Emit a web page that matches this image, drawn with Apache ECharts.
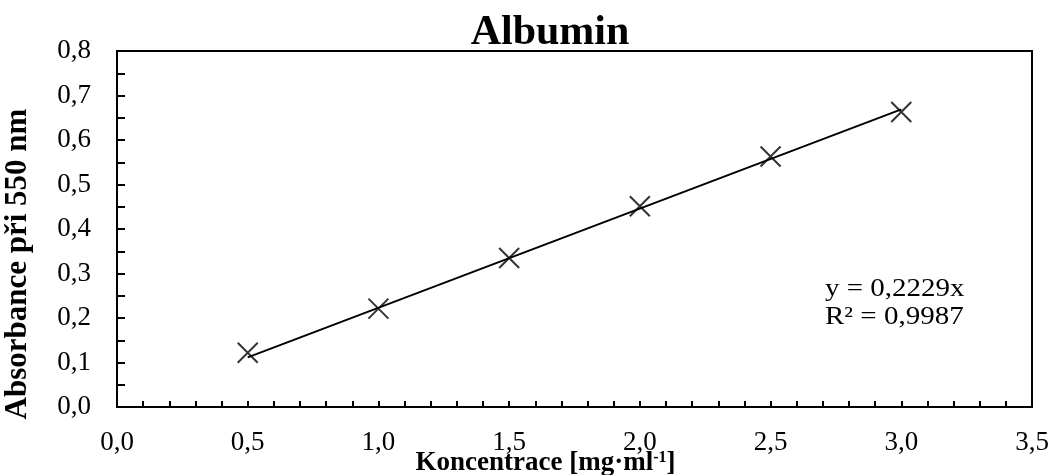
<!DOCTYPE html>
<html>
<head>
<meta charset="utf-8">
<title>Albumin</title>
<script src="https://cdn.jsdelivr.net/npm/echarts@6/dist/echarts.min.js"></script>
<style>
    html, body { margin: 0; padding: 0; background: #fff; }
    #albumin { width: 1053px; height: 475px; }
</style>
</head>
<body>
<div id="albumin"></div>
<script>
// koncentrace [mg/ml] a absorbance pri 550 nm
var koncentrace = [0.5, 1.0, 1.5, 2.0, 2.5, 3.0];
var absorbance = [0.122, 0.221, 0.335, 0.451, 0.563, 0.663];
// linearni trend y = k*x (z Excelu)
var smernice = 0.2229;
var r2 = 0.9987;
var trendRozsah = [0.5, 3.0];
var xTicks = [0, 3.5, 0.5];   // min, max, interval
var yTicks = [0, 0.8, 0.1];

var font = "'Liberation Serif', 'Times New Roman', serif";

function carka(v) {
    return v.toFixed(1).replace('.', ',');
}

var body = [];
for (var i = 0; i < koncentrace.length; i++) {
    body.push([koncentrace[i], absorbance[i]]);
}
var trend = trendRozsah.map(function (x) { return [x, smernice * x]; });

var chart = echarts.init(document.getElementById('albumin'));
var option = {
    backgroundColor: '#ffffff',
    animation: false,
    title: {
        text: 'Albumin',
        left: 545,
        top: 7,
        textAlign: 'center',
        textStyle: {
            fontFamily: font,
            fontSize: 42,
            fontWeight: 'bold',
            color: '#000'
        }
    },
    grid: {
        left: 117,
        right: 21,
        top: 51,
        bottom: 68,
        containLabel: false,
        outerBoundsMode: 'none',
        show: true,
        borderColor: '#000',
        borderWidth: 2
    },
    xAxis: {
        type: 'value',
        min: xTicks[0],
        max: xTicks[1],
        interval: xTicks[2],
        name: 'Koncentrace [mg·ml{sup|-1}]',
        nameLocation: 'middle',
        nameGap: 43,
        nameMoveOverlap: false,
        nameTextStyle: {
            fontFamily: font,
            fontSize: 27,
            fontWeight: 'bold',
            color: '#000',
            padding: [0, 58, 0, 0],
            rich: {
                sup: {
                    fontFamily: font,
                    fontSize: 16,
                    fontWeight: 'bold',
                    color: '#000',
                    verticalAlign: 'top',
                    padding: [0, 0, 10, 0]
                }
            }
        },
        axisLine: { lineStyle: { color: '#000', width: 2 } },
        axisTick: { inside: true, length: 6, lineStyle: { color: '#000', width: 2 } },
        minorTick: { show: true, splitNumber: 5, length: 6, lineStyle: { color: '#000', width: 2 } },
        splitLine: { show: false },
        axisLabel: {
            margin: 22,
            fontFamily: font,
            fontSize: 27,
            color: '#000',
            formatter: carka
        }
    },
    yAxis: {
        type: 'value',
        min: yTicks[0],
        max: yTicks[1],
        interval: yTicks[2],
        name: 'Absorbance při 550 nm',
        nameLocation: 'middle',
        nameGap: 84,
        nameMoveOverlap: false,
        nameTextStyle: {
            fontFamily: font,
            fontSize: 31,
            fontWeight: 'bold',
            color: '#000',
            padding: [0, 70, 0, 0]
        },
        axisLine: { show: true, lineStyle: { color: '#000', width: 2 } },
        axisTick: { show: true, inside: true, length: 8, lineStyle: { color: '#000', width: 2 } },
        minorTick: { show: true, splitNumber: 2, length: 8, lineStyle: { color: '#000', width: 2 } },
        splitLine: { show: false },
        axisLabel: {
            margin: 26,
            fontFamily: font,
            fontSize: 27,
            color: '#000',
            formatter: carka
        }
    },
    graphic: [{
        type: 'text',
        x: 825,
        y: 275,
        scaleX: 1.16,
        style: {
            text: 'y = ' + String(smernice).replace('.', ',') + 'x\nR² = ' + String(r2).replace('.', ','),
            font: '25px ' + font,
            lineHeight: 28,
            fill: '#000'
        }
    }],
    series: [
        {
            name: 'trend',
            type: 'line',
            data: trend,
            symbol: 'none',
            lineStyle: { color: '#000', width: 2 },
            z: 2
        },
        {
            name: 'albumin',
            type: 'scatter',
            data: body,
            symbol: 'path://M0,0L10,10M10,0L0,10',
            symbolSize: 20,
            itemStyle: { color: 'none', borderColor: '#000', borderWidth: 2 },
            z: 3
        }
    ]
};
if (option && typeof option === "object") {
    chart.setOption(option, true);
}
</script>
</body>
</html>
